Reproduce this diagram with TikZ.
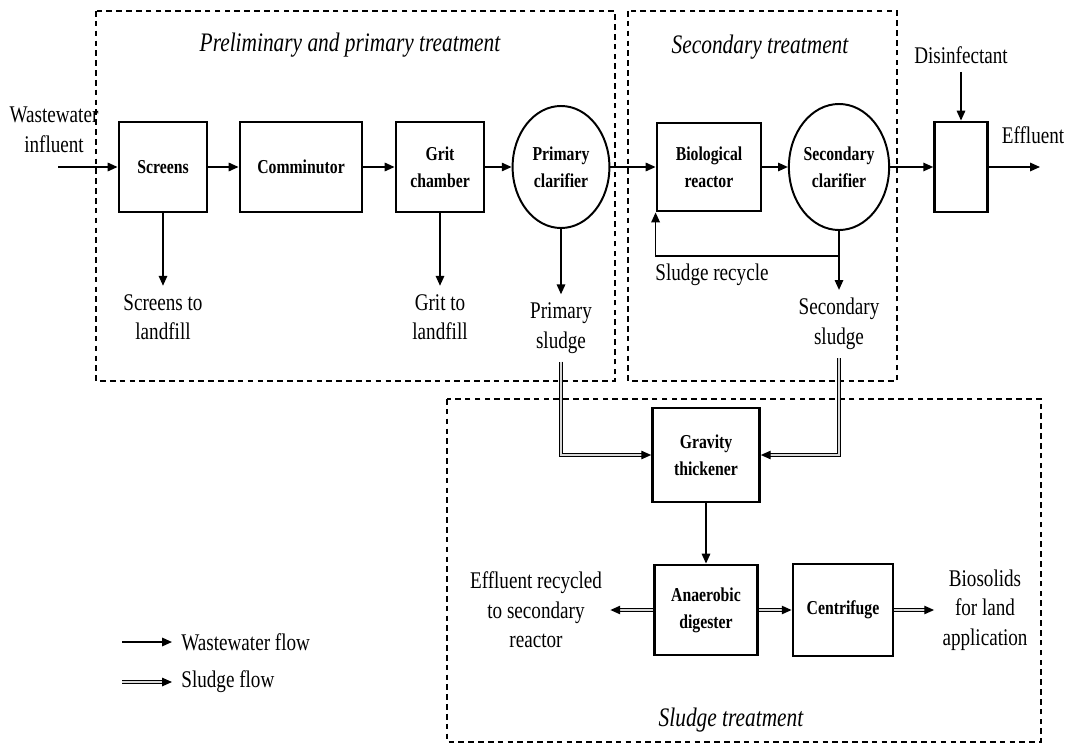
\documentclass[tikz,border=0pt]{standalone}
\usepackage{fontspec}
\setmainfont{Liberation Serif}[FakeStretch=0.8]
\usetikzlibrary{arrows.meta,shapes.geometric}

\begin{document}
\begin{tikzpicture}[x=0.025cm,y=-0.025cm,>={Triangle[length=7pt,width=6pt]},
 unit/.style={draw,line width=2pt,align=center,inner sep=1pt,font=\fontsize{14}{19}\selectfont\bfseries},
 tank/.style={unit,ellipse,line width=1.4pt,minimum width=2.42cm,minimum height=3.05cm,inner sep=0pt},
 lbl/.style={align=center,inner sep=1pt,outer sep=5pt,font=\fontsize{17}{21}\selectfont},
 title/.style={font=\fontsize{19}{23}\selectfont\itshape},
 area/.style={draw,dash pattern=on 4pt off 3pt,line width=1pt},
 flow/.style={->,line width=1.1pt},
 sludge/.style={->,line width=0.9pt,double=gray!30,double distance=1.1pt}]
\useasboundingbox (0,0) rectangle (1069,748);
\draw[area] (96,11) rectangle (615,381);
\draw[area] (628,11) rectangle (897,381);
\draw[area] (447,399) rectangle (1041,742);
\node[title] (tPre) at (350,45) {Preliminary and primary treatment};
\node[title] (tSec) at (760,47) {Secondary treatment};
\node[title] (tSlu) at (731,720) {Sludge treatment};

\node[unit,minimum width=2.2cm,minimum height=2.25cm] (scr) at (163,167) {Screens};
\node[unit,minimum width=3.05cm,minimum height=2.25cm] (com) at (301,167) {Comminutor};
\node[unit,minimum width=2.2cm,minimum height=2.25cm] (grit) at (440,167) {Grit\\chamber};
\node[tank] (pc) at (561,167) {Primary\\clarifier};
\node[unit,minimum width=2.6cm,minimum height=2.2cm] (bio) at (709,167) {Biological\\reactor};
\node[tank,minimum height=3.15cm] (sc) at (839,167) {Secondary\\clarifier};
\node[unit,minimum width=1.32cm,minimum height=2.25cm] (dis) at (961,167) {};
\node[unit,minimum width=2.67cm,minimum height=2.35cm] (thick) at (706,455) {Gravity\\thickener};
\node[unit,minimum width=2.57cm,minimum height=2.25cm] (dig) at (706,610) {Anaerobic\\digester};
\node[unit,minimum width=2.5cm,minimum height=2.3cm] (cen) at (843,610) {Centrifuge};

\node[lbl] (inf) at (54,130) {Wastewater\\influent};
\coordinate (infS) at (58,167);
\node[lbl] (scrL) at (163,317) {Screens to\\landfill};
\node[lbl] (gritL) at (440,317) {Grit to\\landfill};
\node[lbl] (psl) at (561,328) {Primary\\sludge};
\node[lbl] (rcy) at (712,275) {Sludge recycle};
\node[lbl] (ssl) at (839,324) {Secondary\\sludge};
\coordinate (rec) at (839,256);
\node[lbl] (dsf) at (961,55) {Disinfectant};
\node[lbl] (eff) at (1033,135) {Effluent};
\coordinate (effE) at (1040,167);
\node[lbl] (erc) at (536,610) {Effluent recycled\\to secondary\\reactor};
\node[lbl] (bsd) at (985,610) {Biosolids\\for land\\application};

\coordinate (w1) at (122,642); \coordinate (w2) at (172,642);
\coordinate (s1) at (122,682); \coordinate (s2) at (172,682);
\node[lbl,anchor=west,outer sep=0pt] (lgW) at (180,642) {Wastewater flow};
\node[lbl,anchor=west,outer sep=0pt] (lgS) at (180,682) {Sludge flow};

\draw[flow] (infS) -- (scr);
\draw[flow] (scr) -- (com);
\draw[flow] (com) -- (grit);
\draw[flow] (grit) -- (pc);
\draw[flow] (pc) -- (bio);
\draw[flow] (bio) -- (sc);
\draw[flow] (sc) -- (dis);
\draw[flow] (dis) -- (effE);
\draw[flow] (dsf) -- (dis);
\draw[flow] (scr) -- (scrL);
\draw[flow] (grit) -- (gritL);
\draw[flow] (pc) -- (psl);
\draw[flow] (sc) -- (ssl);
\draw[flow] (rec) -| (bio.south west);
\draw[sludge] (psl) |- (thick);
\draw[sludge] (ssl) |- (thick);
\draw[flow] (thick) -- (dig);
\draw[sludge] (dig) -- (erc);
\draw[sludge] (dig) -- (cen);
\draw[sludge] (cen) -- (bsd);
\draw[flow] (w1) -- (w2);
\draw[sludge] (s1) -- (s2);
\end{tikzpicture}
\end{document}
